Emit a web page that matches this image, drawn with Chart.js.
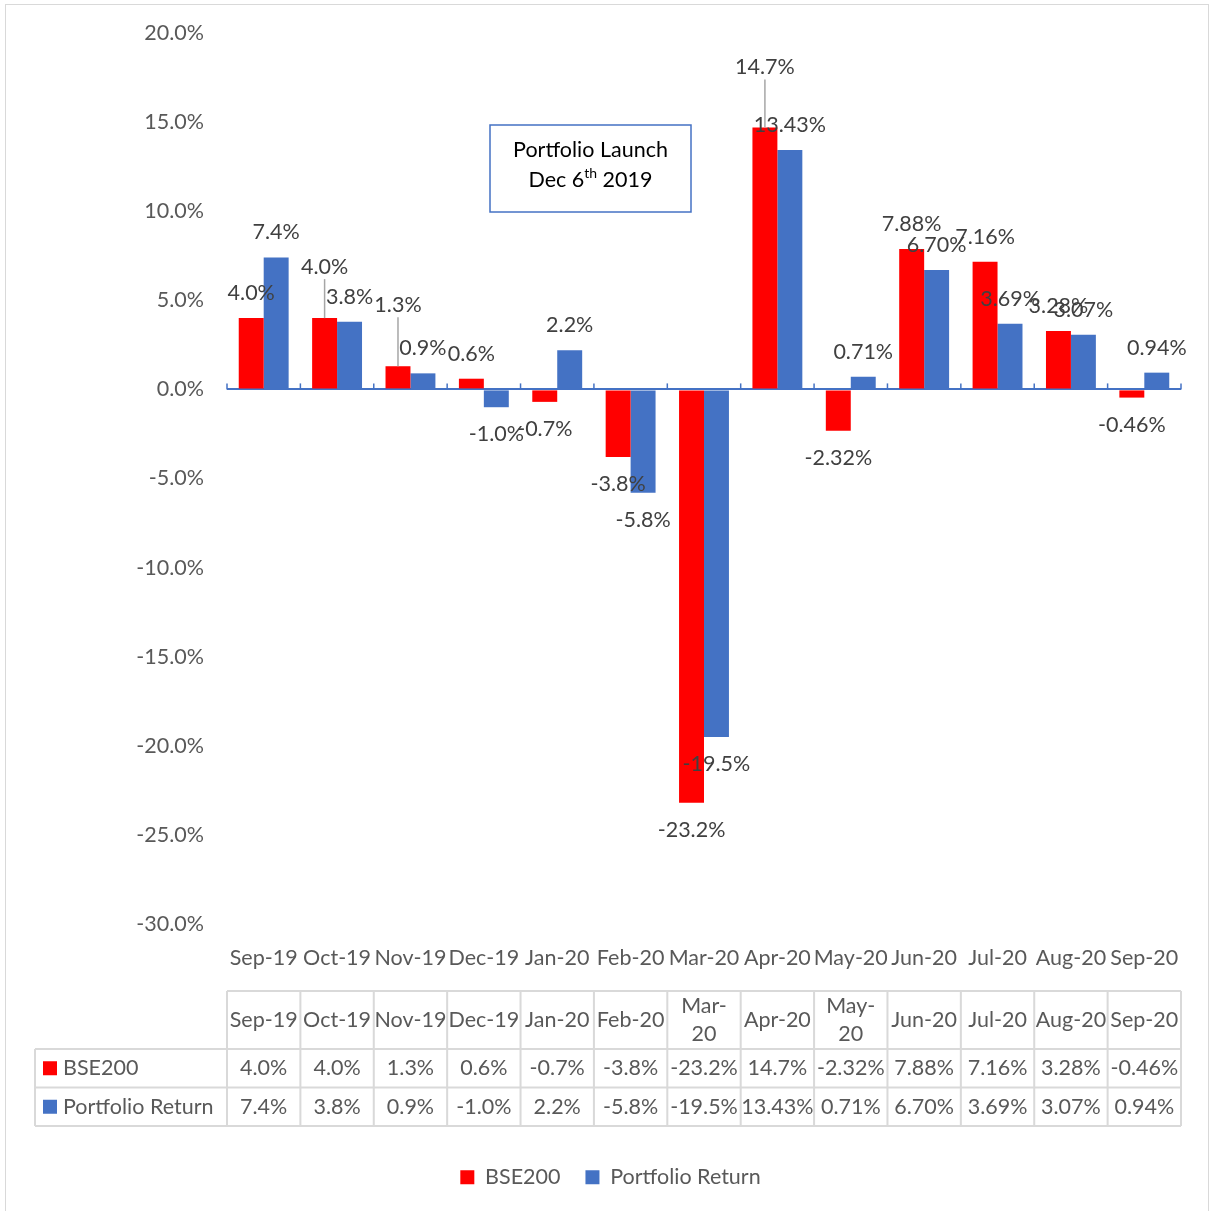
<!DOCTYPE html>
<html lang="en">
<head>
    <meta charset="UTF-8">
    <title>BSE200 vs Portfolio Return</title>
    <script src="https://cdn.jsdelivr.net/npm/chart.js"></script>
    <style>
        body {
            margin: 0;
            background-color: #ffffff;
            font-family: Lato, sans-serif;
        }
        #wrap {
            position: relative;
            width: 1209px;
            height: 1211px;
        }
        #frame {
            position: absolute;
            left: 5px;
            top: 4px;
            width: 1202px;
            height: 1212px;
            border: 1px solid #d9d9d9;
            pointer-events: none;
        }
    </style>
</head>
<body>
    <div id="wrap">
        <canvas id="chart1"></canvas>
        <div id="frame"></div>
    </div>

    <script>
        // datos
        const months = ['Sep-19', 'Oct-19', 'Nov-19', 'Dec-19', 'Jan-20', 'Feb-20', 'Mar-20',
                        'Apr-20', 'May-20', 'Jun-20', 'Jul-20', 'Aug-20', 'Sep-20'];
        const tableHeads = ['Sep-19', 'Oct-19', 'Nov-19', 'Dec-19', 'Jan-20', 'Feb-20', 'Mar-\n20',
                            'Apr-20', 'May-\n20', 'Jun-20', 'Jul-20', 'Aug-20', 'Sep-20'];
        const bse200 = [4.0, 4.0, 1.3, 0.6, -0.7, -3.8, -23.2, 14.7, -2.32, 7.88, 7.16, 3.28, -0.46];
        const bseDecimals = [1, 1, 1, 1, 1, 1, 1, 1, 2, 2, 2, 2, 2];
        const portfolio = [7.4, 3.8, 0.9, -1.0, 2.2, -5.8, -19.5, 13.43, 0.71, 6.70, 3.69, 3.07, 0.94];
        const portDecimals = [1, 1, 1, 1, 1, 1, 1, 2, 2, 2, 2, 2, 2];
        const yTicks = { min: -30, max: 20, step: 5 };

        const RED = '#ff0000';
        const BLUE = '#4472c4';
        const TXT = '#595959';
        const FONT = 'Lato, sans-serif';
        const FS = 21.5;

        function fmt(v, d) {
            return v.toFixed(d) + '%';
        }

        // etiquetas de datos, algunas movidas hacia arriba con linea guia
        const labelsPlugin = {
            id: 'barLabels',
            lifts: [{ 1: 26, 2: 36, 7: 35 }, {}],
            afterLayout(chart) {
                // la leyenda de Excel va centrada en todo el ancho
                chart.legend.left += 20;
                chart.legend.right += 20;
            },
            afterDatasetsDraw(chart) {
                const ctx = chart.ctx;
                ctx.save();
                ctx.font = FS + 'px ' + FONT;
                ctx.fillStyle = '#404040';
                ctx.textAlign = 'center';
                ctx.textBaseline = 'middle';
                chart.data.datasets.forEach((ds, di) => {
                    const meta = chart.getDatasetMeta(di);
                    const lifts = this.lifts[di];
                    meta.data.forEach((el, i) => {
                        const v = ds.data[i];
                        let y = v >= 0 ? el.y - 25 : el.y + 27;
                        const lift = lifts[i] || 0;
                        if (lift) {
                            y -= lift;
                            ctx.strokeStyle = '#a6a6a6';
                            ctx.lineWidth = 1.5;
                            ctx.beginPath();
                            ctx.moveTo(el.x, y + 12);
                            ctx.lineTo(el.x, el.y);
                            ctx.stroke();
                        }
                        ctx.fillText(fmt(v, ds.decimals[i]), el.x, y);
                    });
                });
                ctx.restore();
            }
        };

        // marcas del eje en cero, tabla de datos y cuadro de texto
        const extrasPlugin = {
            id: 'extras',
            afterDraw(chart) {
                const ctx = chart.ctx;
                const xs = chart.scales.x;
                const ys = chart.scales.y;
                const n = months.length;
                const w = (xs.right - xs.left) / n;
                const y0 = ys.getPixelForValue(0);

                ctx.save();
                ctx.strokeStyle = BLUE;
                ctx.lineWidth = 1.5;
                for (let i = 0; i <= n; i++) {
                    const x = xs.left + i * w;
                    ctx.beginPath();
                    ctx.moveTo(x, y0 - 6);
                    ctx.lineTo(x, y0);
                    ctx.stroke();
                }

                // tabla
                const top = xs.top + 67;
                const hH = 58, rH = 38.5;
                const labLeft = 35;
                ctx.strokeStyle = '#d9d9d9';
                ctx.lineWidth = 2;
                ctx.beginPath();
                ctx.moveTo(xs.left, top);
                ctx.lineTo(xs.right, top);
                for (let r = 0; r < 3; r++) {
                    const y = top + hH + r * rH;
                    ctx.moveTo(labLeft, y);
                    ctx.lineTo(xs.right, y);
                }
                ctx.moveTo(labLeft, top + hH);
                ctx.lineTo(labLeft, top + hH + 2 * rH);
                for (let i = 0; i <= n; i++) {
                    const x = xs.left + i * w;
                    ctx.moveTo(x, top);
                    ctx.lineTo(x, top + hH + 2 * rH);
                }
                ctx.stroke();

                ctx.font = FS + 'px ' + FONT;
                ctx.fillStyle = TXT;
                ctx.textAlign = 'center';
                ctx.textBaseline = 'middle';
                for (let i = 0; i < n; i++) {
                    const cx = xs.left + (i + 0.5) * w;
                    const lines = tableHeads[i].split('\n');
                    lines.forEach((s, k) => {
                        ctx.fillText(s, cx, top + hH / 2 + (k - (lines.length - 1) / 2) * 28);
                    });
                    ctx.fillText(fmt(bse200[i], bseDecimals[i]), cx, top + hH + rH / 2);
                    ctx.fillText(fmt(portfolio[i], portDecimals[i]), cx, top + hH + rH * 1.5);
                }
                ctx.textAlign = 'left';
                [['BSE200', RED], ['Portfolio Return', BLUE]].forEach((row, r) => {
                    const cy = top + hH + rH * (r + 0.5);
                    ctx.fillStyle = row[1];
                    ctx.fillRect(43, cy - 7, 14, 14);
                    ctx.fillStyle = TXT;
                    ctx.fillText(row[0], 63, cy);
                });

                // cuadro "Portfolio Launch"
                const bx = xs.left + 263, by = ys.top + 92, bw = 201, bh = 87;
                ctx.fillStyle = '#ffffff';
                ctx.fillRect(bx, by, bw, bh);
                ctx.strokeStyle = BLUE;
                ctx.lineWidth = 1.5;
                ctx.strokeRect(bx, by, bw, bh);
                ctx.fillStyle = '#000000';
                ctx.textAlign = 'center';
                ctx.fillText('Portfolio Launch', bx + bw / 2, by + 25);
                const a = 'Dec 6', sup = 'th', b = ' 2019';
                ctx.font = FS + 'px ' + FONT;
                const wa = ctx.measureText(a).width, wb = ctx.measureText(b).width;
                ctx.font = '14px ' + FONT;
                const ws = ctx.measureText(sup).width;
                let sx = bx + bw / 2 - (wa + ws + wb) / 2;
                const ly = by + 55;
                ctx.textAlign = 'left';
                ctx.font = FS + 'px ' + FONT;
                ctx.fillText(a, sx, ly);
                ctx.font = '14px ' + FONT;
                ctx.fillText(sup, sx + wa, ly - 7);
                ctx.font = FS + 'px ' + FONT;
                ctx.fillText(b, sx + wa + ws, ly);
                ctx.restore();
            }
        };

        const ctx = document.getElementById('chart1').getContext('2d');
        new Chart(ctx, {
            type: 'bar',
            data: {
                labels: months,
                datasets: [{
                    label: 'BSE200',
                    data: bse200,
                    decimals: bseDecimals,
                    backgroundColor: RED
                }, {
                    label: 'Portfolio Return',
                    data: portfolio,
                    decimals: portDecimals,
                    backgroundColor: BLUE
                }]
            },
            options: {
                responsive: true,
                maintainAspectRatio: false,
                animation: false,
                datasets: {
                    bar: {
                        categoryPercentage: 0.68,
                        barPercentage: 1.0
                    }
                },
                layout: {
                    padding: { top: 33, right: 28, bottom: 13, left: 0 }
                },
                scales: {
                    y: {
                        min: yTicks.min,
                        max: yTicks.max,
                        afterFit(scale) {
                            scale.width = 227;
                            scale.paddingTop = 0;
                            scale.paddingBottom = 0;
                        },
                        border: { display: false },
                        grid: {
                            drawTicks: false,
                            color: c => c.tick && c.tick.value === 0 ? BLUE : 'transparent',
                            lineWidth: 2
                        },
                        ticks: {
                            stepSize: yTicks.step,
                            padding: 23,
                            color: TXT,
                            font: { family: FONT, size: FS },
                            callback: v => v.toFixed(1) + '%'
                        }
                    },
                    x: {
                        afterFit(scale) { scale.height = 217.5; },
                        border: { display: false },
                        grid: { display: false, drawTicks: false },
                        ticks: {
                            padding: 21,
                            maxRotation: 0,
                            autoSkip: false,
                            color: TXT,
                            font: { family: FONT, size: FS }
                        }
                    }
                },
                plugins: {
                    legend: {
                        position: 'bottom',
                        labels: {
                            boxWidth: 14,
                            boxHeight: 14,
                            padding: 25,
                            color: TXT,
                            font: { family: FONT, size: FS }
                        }
                    },
                    tooltip: { enabled: false }
                }
            },
            plugins: [labelsPlugin, extrasPlugin]
        });
    </script>
</body>
</html>
